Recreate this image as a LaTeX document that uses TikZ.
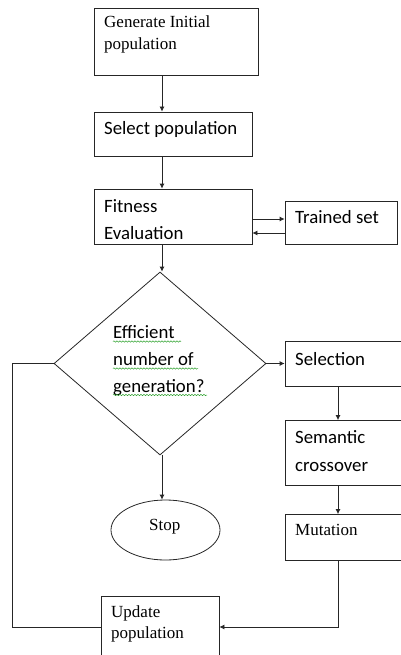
\documentclass[tikz,border=0pt]{standalone}
\usepackage{fontspec}
\setmainfont{Liberation Serif}
\newfontfamily\calib{Carlito}
\usetikzlibrary{arrows.meta,shapes.geometric,decorations.pathmorphing}
\begin{document}
\begin{tikzpicture}[x=1pt,y=-1pt,
  box/.style={draw=black!85,line width=0.8pt,rectangle,inner sep=0pt},
  arr/.style={draw=black!85,line width=0.8pt,-{Latex[length=5pt,width=5pt]}},
  ln/.style={draw=black!85,line width=0.8pt},
  sertxt/.style={anchor=base west,inner sep=0pt,font=\fontsize{17}{20}\selectfont},
  santxt/.style={anchor=base west,inner sep=0pt,font=\calib\fontsize{18.8}{27}\selectfont},
  squig/.style={draw=green!55!black!80,line width=0.5pt,decorate,decoration={snake,amplitude=0.7pt,segment length=3pt}}]
\useasboundingbox (0,0) rectangle (400,655);
% axes for vertical connectors
\coordinate (axa) at (162,0);
\coordinate (axb) at (338,0);
% boxes
\node[box,minimum width=164,minimum height=67] (gen) at (176,41.5) {};
\node[box,minimum width=158,minimum height=44] (sel) at (173,134) {};
\node[box,minimum width=158,minimum height=55] (fit) at (173,216.5) {};
\node[box,minimum width=112,minimum height=43] (trn) at (341,222.5) {};
\node[draw=black!85,line width=0.8pt,diamond,inner sep=0pt,minimum width=212,minimum height=183] (dec) at (160,363.5) {};
\node[box,minimum width=116,minimum height=45] (slc) at (343,363.5) {};
\node[box,minimum width=116,minimum height=65] (sem) at (343,453) {};
\node[box,minimum width=116,minimum height=46] (mut) at (343,537.5) {};
\node[draw=black!85,line width=0.8pt,ellipse,inner sep=0pt,minimum width=109,minimum height=60] (stop) at (165.5,530) {};
\node[box,minimum width=118,minimum height=66] (upd) at (160,629) {};
% texts
\node[sertxt] (genA) at (104,28) {Generate Initial};
\node[sertxt] (genB) at (104,50) {population};
\node[santxt] (selA) at (104,135) {Select population};
\node[santxt] (fitA) at (104,212) {Fitness};
\node[santxt] (fitB) at (104,239) {Evaluation};
\node[santxt] (trnA) at (295,223) {Trained set};
\node[santxt] (decA) at (113,338) {Efficient};
\node[santxt] (decB) at (113,365) {number of};
\node[santxt] (decC) at (113,392) {generation?};
\node[santxt] (slcA) at (295,365) {Selection};
\node[santxt] (semA) at (295,443) {Semantic};
\node[santxt] (semB) at (295,471) {crossover};
\node[sertxt] (mutA) at (295,535) {Mutation};
\node[sertxt] (stopA) at (149,530) {Stop};
\node[sertxt] (updA) at (111,617) {Update};
\node[sertxt] (updB) at (111,638) {population};
% spell-check squiggles
\draw[squig] (113,341.5) -- (181,341.5);
\draw[squig] (113,368.5) -- (198,368.5);
\draw[squig] (113,395) -- (207,395);
% connectors
\draw[arr] (gen.south -| axa) -- (sel.north -| axa);
\draw[arr] (sel.south -| axa) -- (fit.north -| axa);
\draw[arr] ([yshift=-2.5pt]fit.east) -- ([yshift=-2.5pt]fit.east -| trn.west);
\draw[arr] ([yshift=-16.5pt]fit.east -| trn.west) -- ([yshift=-16.5pt]fit.east);
\draw[arr] (fit.south -| axa) -- (dec.north -| axa);
\draw[arr] (dec.east) -- (slc.west);
\draw[arr] (slc.south -| axb) -- (sem.north -| axb);
\draw[arr] (sem.south -| axb) -- (mut.north -| axb);
\draw[arr] (dec.south -| axa) -- (stop.north -| axa);
\coordinate (lp) at (12,627);
\draw[arr] (mut.south -| axb) -- (axb |- lp) -- (upd.east |- lp);
\draw[ln] (dec.west) -- (lp |- dec.west) -- (lp) -- (upd.west |- lp);
\end{tikzpicture}
\end{document}
